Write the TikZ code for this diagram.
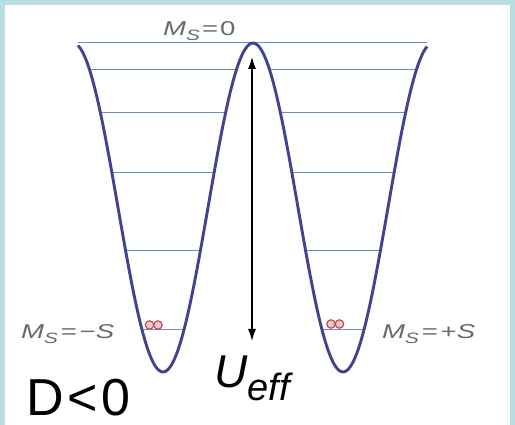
\documentclass[tikz,border=0pt]{standalone}
\usepackage{fontspec}
\setmainfont{Liberation Sans}
\usetikzlibrary{arrows.meta}
\definecolor{framecol}{HTML}{B8DEE2}
\definecolor{curvecol}{HTML}{42438E}
\definecolor{levelcol}{HTML}{6B8DCC}
\definecolor{labelgray}{HTML}{6A6A6A}
\definecolor{dotred}{HTML}{C0464A}
\definecolor{dotpink}{HTML}{F2C4C8}
\newcommand\lowsub[1]{\raisebox{-5pt}{\fontsize{15}{15}\selectfont\itshape #1}}
\newcommand\wide[1]{\scalebox{1.38}[1]{#1}}
\begin{document}
\begin{tikzpicture}[x=1pt,y=-1pt,
  well/.style={draw=curvecol, line width=2.9pt, line join=round},
  level/.style={draw=levelcol, line width=1pt},
  lbl/.style={text=labelgray, font=\fontsize{20}{20}\selectfont, inner sep=0pt, anchor=base west},
  dot/.style={draw=dotred, fill=dotpink, line width=1.1pt, circle, minimum size=8.5pt, inner sep=0pt},
  arr/.style={{Latex[length=12pt,width=8pt]}-{Latex[length=12pt,width=8pt]}, line width=1.1pt}]
\useasboundingbox (0,0) rectangle (515,425);
\fill[framecol] (0,0) rectangle (515,425);
\fill[white] (5,5) rectangle (510,425);
% energy levels
\foreach \L in {70,113,173,251,330}{
  \pgfmathsetmacro\dx{acos((\L-207.5)/164.5)/2}
  \draw[level] ({163-\dx},\L) -- ({163+\dx},\L);
  \draw[level] ({343-\dx},\L) -- ({343+\dx},\L);
}
\draw[level] (78,43) -- (427,43);
% double well
\draw[well] plot[domain=78:427, samples=160, smooth] (\x, {207.5+164.5*cos(2*(\x-163))});
% barrier arrow
\coordinate (top) at (252,57);
\coordinate (bot) at (252,341);
\draw[arr] (top) -- (bot);
% spins
\node[dot] (l1) at (149.5,325) {};
\node[dot] (l2) at (158,325) {};
\node[dot] (r1) at (331,324) {};
\node[dot] (r2) at (339.5,324) {};
% labels
\node[lbl] (m0) at (163,36) {\wide{\itshape M\lowsub{S}\upshape\kern1.5pt=\kern1.5pt0}};
\node[lbl] (mm) at (21,339) {\wide{\itshape M\lowsub{S}\upshape\kern2pt=\kern2pt−\itshape S}};
\node[lbl] (mp) at (382,339) {\wide{\itshape M\lowsub{S}\upshape\kern2pt=\kern2pt+\itshape S}};
\node[anchor=base west, inner sep=0pt, font=\fontsize{52}{52}\selectfont] (d) at (26,415) {D\kern4pt<\kern3pt0};
\node[anchor=base west, inner sep=0pt, font=\fontsize{46}{46}\selectfont\itshape] (u) at (214,388) {U\raisebox{-13pt}{\fontsize{38}{38}\selectfont eff}};
\end{tikzpicture}
\end{document}
